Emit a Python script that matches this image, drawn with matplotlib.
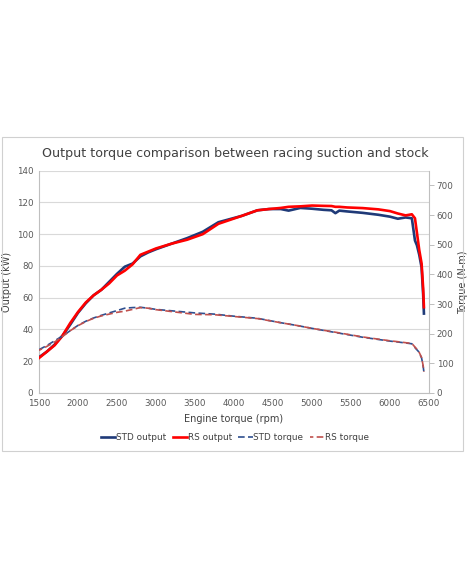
import matplotlib
matplotlib.use("Agg")
import matplotlib.pyplot as plt
from matplotlib.patches import Rectangle

# ---------------- data ----------------
rpm_out = [1500, 1600, 1700, 1800, 1900, 2000, 2100, 2200, 2300, 2400, 2500,
           2600, 2700, 2800, 2900, 3000, 3200, 3400, 3600, 3800, 3950, 4100,
           4300, 4450, 4600, 4700, 4850, 5000, 5150, 5250, 5300, 5350, 5450,
           5650, 5850, 6000, 6100, 6200, 6280, 6320, 6345, 6375, 6405, 6425, 6435]
std_output = [22.5, 26, 30.5, 36, 43, 50.5, 56.5, 61.5, 65, 70, 75,
              79.5, 81.5, 86, 88.5, 90.5, 94, 97.5, 101.5, 107.5, 109.5, 111.5,
              115, 115.8, 115.8, 114.8, 116.5, 116, 115.3, 115, 113.2, 114.8, 114.3,
              113.4, 112.2, 111, 109.7, 110.5, 110, 96, 93, 87, 79, 62, 50]
rs_output = [22, 26, 30, 36, 44, 51, 57, 61.5, 65, 69, 74,
             77, 81, 87, 89, 91, 94, 96.5, 100, 106.5, 109, 111.5,
             115, 115.8, 116.5, 117.2, 117.5, 118, 117.8, 117.7, 117.2, 117.2, 116.8,
             116.4, 115.6, 114.5, 113, 111.8, 112.5, 110, 101, 90, 81.5, 66, 54]

rpm_trq = [1500, 1600, 1700, 1800, 1900, 2000, 2100, 2200, 2300, 2400, 2500,
           2600, 2700, 2800, 2900, 3000, 3250, 3500, 3750, 4000, 4300, 4600,
           4800, 5000, 5300, 5650, 6000, 6100, 6280, 6330, 6365, 6405, 6425, 6435]
std_torque = [146, 160, 176, 192, 210, 228, 242, 253, 262, 270, 278,
              286, 288, 289, 286, 282, 276, 270, 266, 259, 252, 237,
              228, 218, 204, 188, 175, 172, 166, 150, 140, 118, 90, 70]
rs_torque = [144, 157, 172, 190, 210, 227, 241, 252, 260, 266, 272,
             276, 282, 288, 286, 281, 273, 265, 264, 258, 251, 237,
             228, 218, 205, 189, 176, 173, 167, 152, 142, 120, 92, 72]

x_ticks = [1500, 2000, 2500, 3000, 3500, 4000, 4500, 5000, 5500, 6000, 6500]
y_ticks = [0, 20, 40, 60, 80, 100, 120, 140]
y2_ticks = [0, 100, 200, 300, 400, 500, 600, 700]

title = "Output torque comparison between racing suction and stock"
xlabel = "Engine torque (rpm)"
ylabel = "Output (kW)"
y2label = "Torque (N-m)"
labels = ["STD output", "RS output", "STD torque", "RS torque"]

# ---------------- style ----------------
c_std = "#1F3A78"
c_rs = "#FF0000"
c_std_d = "#2F4F8F"
c_rs_d = "#C0504D"
grid_c = "#D9D9D9"
axis_c = "#BFBFBF"
text_c = "#595959"

fig = plt.figure(figsize=(4.70, 5.88), dpi=100)
fig.patch.set_facecolor("white")

# chart frame
fig.patches.append(Rectangle((2 / 470, 1 - 451 / 588), 461 / 470, 314 / 588,
                             transform=fig.transFigure, fill=False,
                             edgecolor="#D0D0D0", lw=0.8))

ax = fig.add_axes([39 / 470, 1 - 393 / 588, 390 / 470, (393 - 170.6) / 588])
ax2 = ax.twinx()

l1, = ax.plot(rpm_out, std_output, color=c_std, lw=1.9, zorder=3)
l2, = ax.plot(rpm_out, rs_output, color=c_rs, lw=1.9, zorder=4)
l3, = ax2.plot(rpm_trq, std_torque, color=c_std_d, lw=1.2, ls=(0, (4, 2)), zorder=3)
l4, = ax2.plot(rpm_trq, rs_torque, color=c_rs_d, lw=1.2, ls=(2, (4, 2)), zorder=4)

ax.set_xlim(1500, 6500)
ax.set_ylim(0, 140)
ax2.set_ylim(0, 750)
ax.set_xticks(x_ticks)
ax.set_yticks(y_ticks)
ax2.set_yticks(y2_ticks)

ax.grid(axis="y", color=grid_c, lw=0.8)
ax.set_axisbelow(True)

for a in (ax, ax2):
    for s in a.spines.values():
        s.set_visible(False)
ax.spines["left"].set_visible(True)
ax.spines["bottom"].set_visible(True)
ax2.spines["right"].set_visible(True)
for s in (ax.spines["left"], ax.spines["bottom"], ax2.spines["right"]):
    s.set_color(axis_c)
    s.set_linewidth(0.8)

ax.tick_params(axis="both", length=0, labelsize=6.3, labelcolor=text_c, pad=4)
ax.tick_params(axis="x", pad=4)
ax2.tick_params(axis="y", length=3.5, width=0.7, color=axis_c, labelsize=6.3,
                labelcolor=text_c, pad=2)

ax.set_xlabel(xlabel, fontsize=7, color="#404040", labelpad=5)
ax.set_ylabel(ylabel, fontsize=7, color="#404040")
ax2.set_ylabel(y2label, fontsize=7, color="#404040")
ax.yaxis.set_label_coords((12 - 39) / 390, 0.5)
ax2.yaxis.set_label_coords((458 - 39) / 390, 0.5)

fig.text(235 / 470, 1 - 153 / 588, title, ha="center", va="center",
         fontsize=9.1, color="#404040")

fig.legend([l1, l2, l3, l4], labels, loc="center",
           bbox_to_anchor=(235 / 470, 1 - 437.5 / 588), ncol=4, frameon=False,
           fontsize=6.4, handlelength=1.6, handletextpad=0.1, columnspacing=0.7,
           labelcolor="#404040")

fig.savefig("out.png", dpi=100, facecolor="white")
